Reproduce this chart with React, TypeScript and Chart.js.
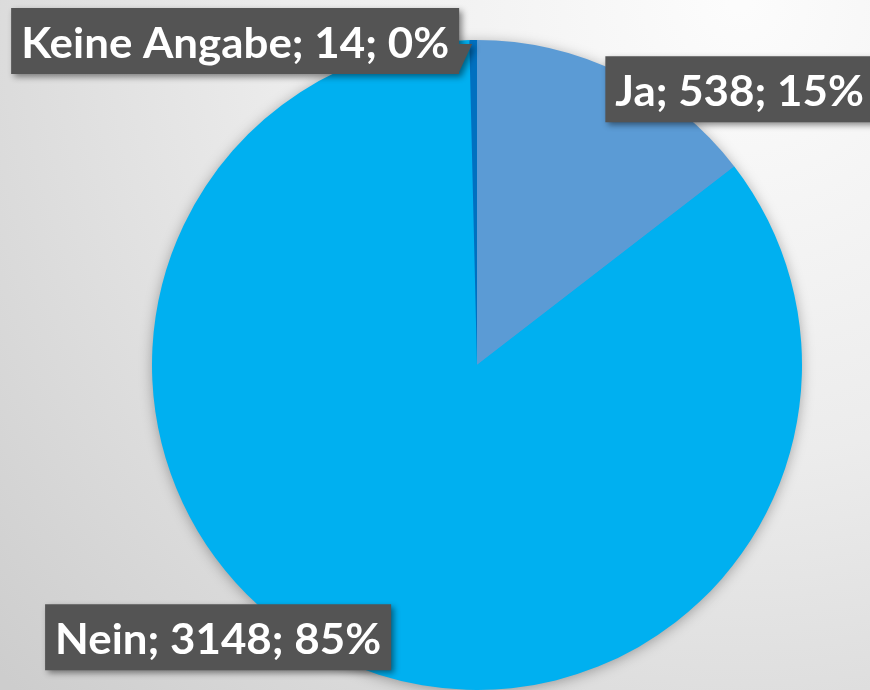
import React, { useEffect, useRef } from 'react';
import { Chart, registerables } from 'chart.js';

Chart.register(...registerables);

const categories = ['Ja', 'Nein', 'Keine Angabe'];
const counts = [538, 3148, 14];
const percentLabels = ['15%', '85%', '0%'];
const sliceColors = ['#5B9BD5', '#00B0F0', '#0070C0'];

// label box placement relative to each slice's outer-edge midpoint (style only)
const labelAlign = ['left', 'right', 'right'];
const labelDx = [-15, 54, -14];
const labelDy = [-17, -54, -32];
const labelCallout = [false, false, true];

const FONT_FAMILY = 'Lato, "Open Sans", sans-serif';
const FONT_SIZE = 42;
const BOX_H = 66;
const PAD_X = 10;
const BASELINE = 50;

const bgPlugin = {
  id: 'bgGradient',
  beforeDraw(chart: any) {
    const { ctx, width, height } = chart;
    ctx.save();
    const g = ctx.createRadialGradient(width * 0.85, 0, 10, width * 0.85, 0, 1000);
    g.addColorStop(0, '#fcfcfc');
    g.addColorStop(0.45, '#ececec');
    g.addColorStop(1, '#cdcdcd');
    ctx.fillStyle = g;
    ctx.fillRect(0, 0, width, height);
    ctx.restore();
  },
};

const pieShadowPlugin = {
  id: 'pieShadow',
  beforeDatasetsDraw(chart: any) {
    const meta = chart.getDatasetMeta(0);
    const arc = meta.data[0];
    if (!arc) return;
    const { ctx } = chart;
    ctx.save();
    ctx.shadowColor = 'rgba(0,0,0,0.35)';
    ctx.shadowBlur = 14;
    ctx.shadowOffsetX = 0;
    ctx.shadowOffsetY = 2;
    ctx.fillStyle = '#00B0F0';
    ctx.beginPath();
    ctx.arc(arc.x, arc.y, arc.outerRadius - 1, 0, Math.PI * 2);
    ctx.fill();
    ctx.restore();
  },
};

const labelPlugin = {
  id: 'boxLabels',
  afterDatasetsDraw(chart: any) {
    const { ctx } = chart;
    const meta = chart.getDatasetMeta(0);
    ctx.save();
    ctx.font = `bold ${FONT_SIZE}px ${FONT_FAMILY}`;
    // horizontal condensing so the longest label matches the reference width
    const ref = `${categories[2]}; ${counts[2]}; ${percentLabels[2]}`;
    const sx = 428 / ctx.measureText(ref).width;
    meta.data.forEach((arc: any, i: number) => {
      const mid = (arc.startAngle + arc.endAngle) / 2;
      const ax = arc.x + Math.cos(mid) * arc.outerRadius;
      const ay = arc.y + Math.sin(mid) * arc.outerRadius;
      const text = `${categories[i]}; ${counts[i]}; ${percentLabels[i]}`;
      const tw = ctx.measureText(text).width * sx;
      const bw = tw + PAD_X * 2;
      const left = labelAlign[i] === 'left' ? ax + labelDx[i] : ax + labelDx[i] - bw;
      const top = ay + labelDy[i];
      ctx.save();
      ctx.shadowColor = 'rgba(0,0,0,0.45)';
      ctx.shadowBlur = 6;
      ctx.shadowOffsetX = 3;
      ctx.shadowOffsetY = 3;
      ctx.fillStyle = '#545454';
      ctx.beginPath();
      ctx.rect(left, top, bw, BOX_H);
      if (labelCallout[i]) {
        ctx.moveTo(left + bw - 1, top + 36);
        ctx.lineTo(ax - 1, ay + 4);
        ctx.lineTo(left + bw - 1, top + BOX_H);
        ctx.closePath();
      }
      ctx.fill();
      ctx.restore();
      ctx.save();
      ctx.fillStyle = '#ffffff';
      ctx.textBaseline = 'alphabetic';
      ctx.textAlign = 'left';
      ctx.translate(left + PAD_X, top + BASELINE);
      ctx.scale(sx, 1);
      ctx.fillText(text, 0, 0);
      ctx.restore();
    });
    ctx.restore();
  },
};

export default function App() {
  const ref = useRef<HTMLCanvasElement>(null);
  useEffect(() => {
    document.body.style.margin = '0';
    const chart = new Chart(ref.current!, {
      type: 'pie',
      data: {
        labels: categories,
        datasets: [
          {
            data: counts,
            backgroundColor: sliceColors,
            borderWidth: 0,
          },
        ],
      },
      options: {
        animation: false,
        responsive: false,
        rotation: 0,
        layout: { padding: { left: 84, right: 0, top: 40, bottom: 0 } },
        plugins: {
          legend: { display: false },
          tooltip: { enabled: false },
          title: { display: false },
        },
      },
      plugins: [bgPlugin, pieShadowPlugin, labelPlugin],
    });
    return () => chart.destroy();
  }, []);
  return <canvas ref={ref} width={870} height={690} style={{ display: 'block' }} />;
}
